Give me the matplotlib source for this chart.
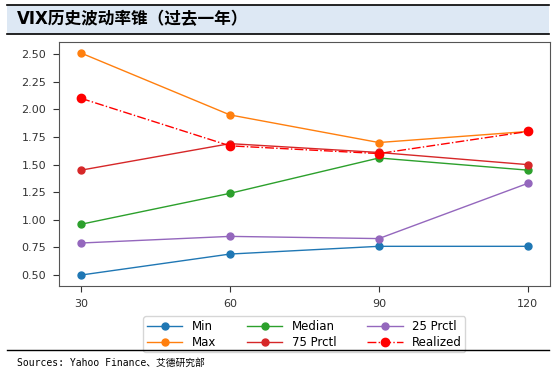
import matplotlib
matplotlib.use("Agg")
import matplotlib.pyplot as plt
from matplotlib.patches import Rectangle
from matplotlib.lines import Line2D

plt.rcParams['font.family'] = ['DejaVu Sans', 'Noto Sans CJK SC']

# data
windows = [30, 60, 90, 120]
vol_min = [0.50, 0.69, 0.76, 0.76]
vol_max = [2.51, 1.95, 1.70, 1.80]
vol_median = [0.96, 1.24, 1.56, 1.45]
vol_p75 = [1.45, 1.69, 1.61, 1.50]
vol_p25 = [0.79, 0.85, 0.83, 1.33]
vol_realized = [2.10, 1.67, 1.60, 1.80]

title = "VIX历史波动率锥（过去一年）"
source = "Sources: Yahoo Finance、艾德研究部"

fig = plt.figure(figsize=(5.55, 3.75), dpi=100)
ax = fig.add_axes([0.106, 0.237, 0.885, 0.651])

ax.plot(windows, vol_min, 'o-', color='C0', lw=1, ms=5, label='Min')
ax.plot(windows, vol_max, 'o-', color='C1', lw=1, ms=5, label='Max')
ax.plot(windows, vol_median, 'o-', color='C2', lw=1, ms=5, label='Median')
ax.plot(windows, vol_p75, 'o-', color='C3', lw=1, ms=5, label='75 Prctl')
ax.plot(windows, vol_p25, 'o-', color='C4', lw=1, ms=5, label='25 Prctl')
ax.plot(windows, vol_realized, 'o-.', color='red', lw=1, ms=6, label='Realized')

ax.set_xticks(windows)
ax.set_yticks([0.5, 0.75, 1.0, 1.25, 1.5, 1.75, 2.0, 2.25, 2.5])
ax.yaxis.set_major_formatter(matplotlib.ticker.FormatStrFormatter('%.2f'))
ax.tick_params(labelsize=8, colors='#333333', length=4, pad=5)
for s in ax.spines.values():
    s.set_color('#555555')

ax.legend(loc='upper center', bbox_to_anchor=(0.5, -0.1), ncol=3,
          fontsize=8.5, handlelength=3, columnspacing=2.6,
          labelspacing=0.25, borderpad=0.3, frameon=True)

# title band
fig.patches.append(Rectangle((7 / 555, 1 - 34 / 375), 542 / 555, 29 / 375,
                             transform=fig.transFigure, facecolor='#dde8f4',
                             edgecolor='none', zorder=0))
fig.add_artist(Line2D([7 / 555, 549 / 555], [1 - 5 / 375, 1 - 5 / 375],
                      color='black', lw=1.2))
fig.add_artist(Line2D([7 / 555, 549 / 555], [1 - 34 / 375, 1 - 34 / 375],
                      color='black', lw=1.2))
fig.text(17 / 555, 1 - 19.5 / 375, title, fontsize=12, fontweight='bold',
         va='center', ha='left', family=['DejaVu Sans', 'Noto Sans CJK SC'])

# bottom rule and source
fig.add_artist(Line2D([7 / 555, 549 / 555], [1 - 350 / 375, 1 - 350 / 375],
                      color='black', lw=1.0))
fig.text(17 / 555, 1 - 363 / 375, source, fontsize=7, va='center', ha='left',
         family=['DejaVu Sans Mono', 'Noto Sans CJK SC'])

fig.savefig('out.png', dpi=100)
